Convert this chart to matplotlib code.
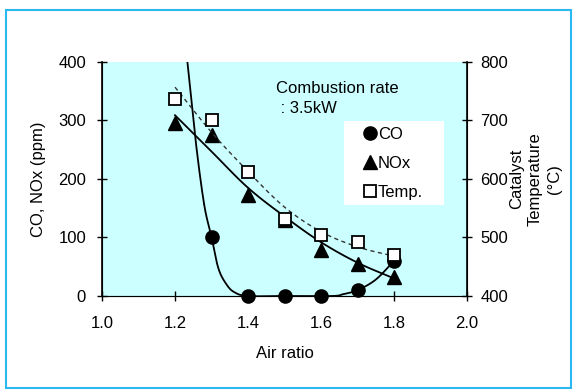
import matplotlib.pyplot as plt
from matplotlib.lines import Line2D
from matplotlib.patches import Rectangle
import numpy as np

plt.rcParams['font.family'] = ['Liberation Sans', 'DejaVu Sans']

# Datos medidos
air = [1.2, 1.3, 1.4, 1.5, 1.6, 1.7, 1.8]
co_air = [1.3, 1.4, 1.5, 1.6, 1.7, 1.8]
co = [100, 0, 0, 0, 10, 60]
nox = [295, 275, 172, 130, 78, 55, 32]
temp = [736, 700, 612, 532, 505, 493, 470]

# Curvas de tendencia
co_fit_x = [1.234, 1.257, 1.28, 1.3, 1.319, 1.342, 1.364, 1.4, 1.5, 1.63, 1.66, 1.7, 1.75, 1.8]
co_fit_y = [400, 263, 156, 101, 47, 19, 6, 0, 0, 0, 3, 10, 28, 60]
nox_fit_x = [1.2, 1.3, 1.4, 1.5, 1.6, 1.7, 1.8]
nox_fit_y = [309, 247, 185, 136, 92, 57, 30]
temp_fit_x = [1.2, 1.3, 1.4, 1.5, 1.6, 1.7, 1.8]
temp_fit_y = [757, 680, 613, 552, 510, 484, 468]


def suavizar(xs, ys, n=20):
    # spline Catmull-Rom para dibujar la curva
    p = np.column_stack([xs, ys]).astype(float)
    p = np.vstack([2 * p[0] - p[1], p, 2 * p[-1] - p[-2]])
    out = []
    t = np.linspace(0, 1, n)[:, None]
    for i in range(1, len(p) - 2):
        p0, p1, p2, p3 = p[i - 1], p[i], p[i + 1], p[i + 2]
        seg = 0.5 * ((2 * p1) + (-p0 + p2) * t + (2 * p0 - 5 * p1 + 4 * p2 - p3) * t ** 2
                     + (-p0 + 3 * p1 - 3 * p2 + p3) * t ** 3)
        out.append(seg)
    out = np.vstack(out)
    return out[:, 0], out[:, 1]


fs = 12
fig = plt.figure(figsize=(5.8, 3.92), dpi=100)
fig.patches.append(Rectangle((6 / 580, 4 / 392), 565 / 580, 378 / 392, transform=fig.transFigure,
                             fill=False, edgecolor='#2cb8f0', linewidth=1.5))

ax = fig.add_axes([102 / 580, 1 - 296 / 392, 365 / 580, 234 / 392])
ax.set_facecolor('#ccffff')
ax2 = ax.twinx()

ax.set_xlim(1.0, 2.0)
ax.set_ylim(0, 400)
ax2.set_ylim(400, 800)

x, y = suavizar(co_fit_x, co_fit_y)
ax.plot(x, y, color='black', lw=1.3)
x, y = suavizar(nox_fit_x, nox_fit_y)
ax.plot(x, y, color='black', lw=1.3)
x, y = suavizar(temp_fit_x, temp_fit_y)
ax2.plot(x, y, color='#333333', lw=1.0, ls=(0, (3, 2.5)))

ax.plot(co_air, co, 'o', color='black', ms=9.5, clip_on=False, zorder=5)
ax.plot(air, nox, '^', color='black', ms=9.5, clip_on=False, zorder=5)
ax2.plot(air, temp, 's', mfc='white', mec='black', mew=1.3, ms=9, clip_on=False, zorder=6)

ax.set_xticks(np.arange(1.0, 2.01, 0.2))
ax.set_xticklabels(['1.0', '1.2', '1.4', '1.6', '1.8', '2.0'])
ax.set_yticks([0, 100, 200, 300, 400])
ax2.set_yticks([400, 500, 600, 700, 800])

for a in (ax, ax2):
    a.spines['top'].set_visible(False)
    a.tick_params(direction='inout', length=7, width=1, labelsize=fs)
ax.spines['bottom'].set_color('#555555')
ax.spines['left'].set_linewidth(1.2)
ax2.spines['right'].set_linewidth(1.2)
ax.tick_params(axis='x', pad=11)
ax.tick_params(axis='y', pad=8)
ax2.tick_params(axis='y', pad=6)

ax.set_xlabel('Air ratio', fontsize=fs, labelpad=11)
ax.set_ylabel('CO, NOx (ppm)', fontsize=fs, labelpad=9)
ax2.set_ylabel('Catalyst\nTemperature\n(°C)', fontsize=fs, labelpad=1, linespacing=1.3)

ax.text(1.477, 338, 'Combustion rate\n : 3.5kW', fontsize=fs, va='center', linespacing=1.4)

# caja blanca de la leyenda
ax2.add_patch(Rectangle((344 / 580, 1 - 205 / 392), 100 / 580, 84 / 392, transform=fig.transFigure,
                        facecolor='white', edgecolor='none', zorder=9))
handles = [
    Line2D([], [], marker='o', ls='none', color='black', ms=9.5),
    Line2D([], [], marker='^', ls='none', color='black', ms=9.5),
    Line2D([], [], marker='s', ls='none', mfc='white', mec='black', mew=1.3, ms=9),
]
leg = ax2.legend(handles, ['CO', 'NOx', 'Temp.'], loc='upper left',
                 bbox_to_anchor=(363 / 580, 1 - 127 / 392), bbox_transform=fig.transFigure,
                 frameon=False, fontsize=fs, handlelength=0.8, handletextpad=0.1,
                 borderpad=0, borderaxespad=0, labelspacing=0.85)
leg.set_zorder(10)

fig.savefig('out.png', dpi=100)
